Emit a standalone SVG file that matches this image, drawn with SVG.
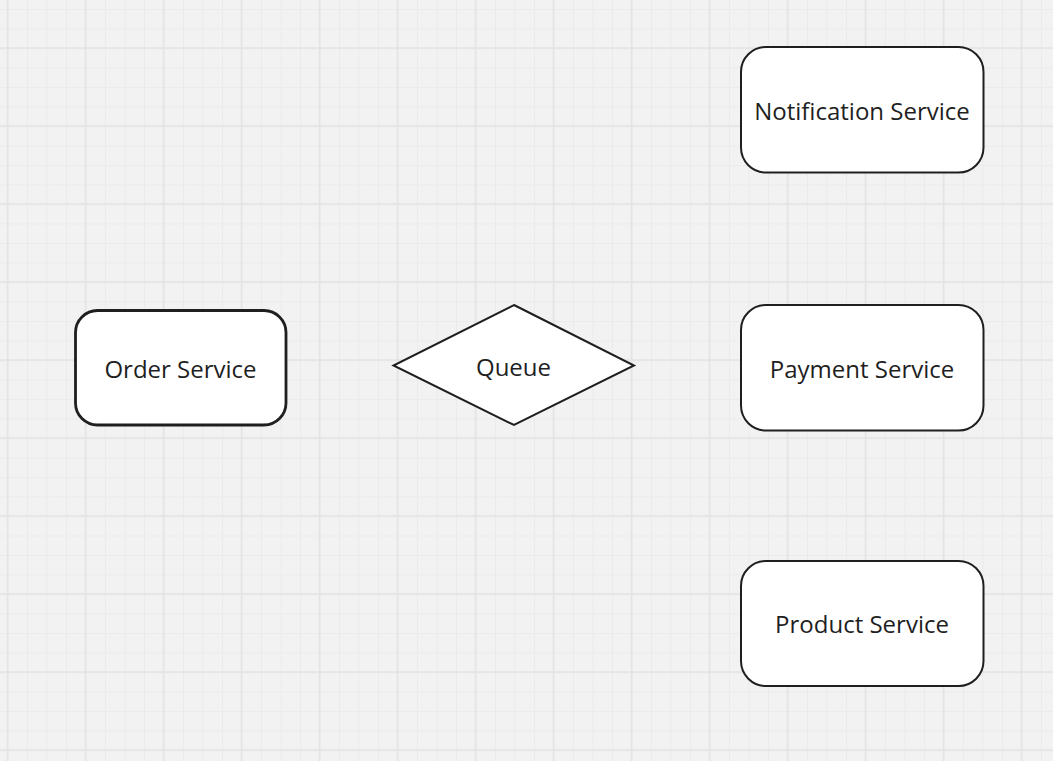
<svg xmlns="http://www.w3.org/2000/svg" width="1053" height="761" viewBox="0 0 1053 761">
  <style>
    .node { fill: #ffffff; stroke: #1f1f1f; stroke-width: 2; }
    .thick { stroke-width: 2.8; }
    .label { font-family: "Open Sans", "Noto Sans", "Liberation Sans", sans-serif; font-size: 24px; fill: #1f1f1f; text-anchor: middle; }
  </style>
  <defs>
    <pattern id="minor" patternUnits="userSpaceOnUse" x="7.5" y="9" width="19.5" height="19.5">
      <path d="M0.5 0 V19.5 M0 0.5 H19.5" stroke="#ebebeb" stroke-width="1" fill="none"/>
    </pattern>
    <pattern id="major" patternUnits="userSpaceOnUse" x="6.75" y="47.25" width="78" height="78">
      <path d="M0.75 0 V78 M0 0.75 H78" stroke="#e3e3e3" stroke-width="1.5" fill="none"/>
    </pattern>
  </defs>
  <rect x="0" y="0" width="1053" height="761" fill="#f2f2f2"/>
  <rect x="0" y="0" width="1053" height="761" fill="url(#minor)"/>
  <rect x="0" y="0" width="1053" height="761" fill="url(#major)"/>

  <g id="connectors"></g>

  <g id="order-service">
    <rect class="node thick" x="75.5" y="310.5" width="210.5" height="114.5" rx="22" ry="22"/>
    <text class="label" x="180.5" y="377.5">Order Service</text>
  </g>
  <g id="queue">
    <polygon class="node" points="514,305 634,365.5 514,425 393.5,365.5"/>
    <text class="label" x="513.5" y="375.5">Queue</text>
  </g>
  <g id="notification-service">
    <rect class="node" x="741" y="47" width="242.5" height="125.5" rx="25" ry="25"/>
    <text class="label" x="862" y="119.5">Notification Service</text>
  </g>
  <g id="payment-service">
    <rect class="node" x="741" y="305" width="242.5" height="125.5" rx="25" ry="25"/>
    <text class="label" x="862" y="377.5">Payment Service</text>
  </g>
  <g id="product-service">
    <rect class="node" x="741" y="561" width="242.5" height="125" rx="25" ry="25"/>
    <text class="label" x="862" y="633">Product Service</text>
  </g>
</svg>
